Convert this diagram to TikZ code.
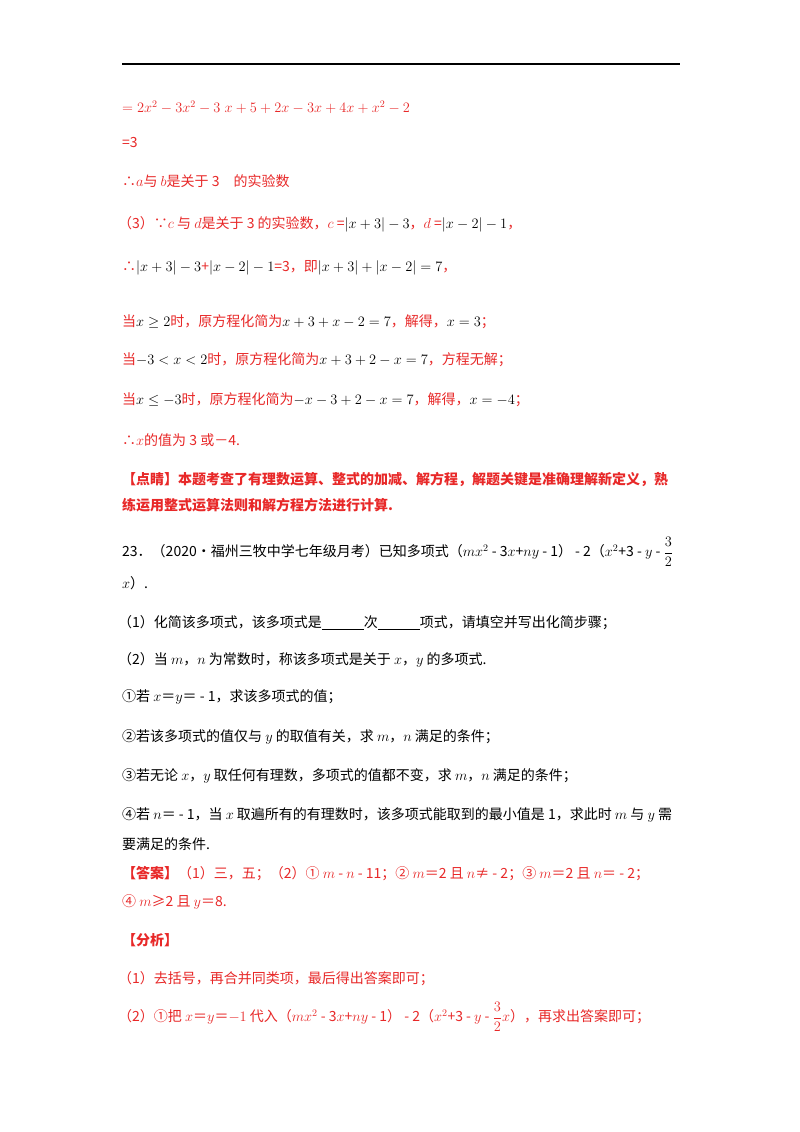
\documentclass[tikz,border=0pt]{standalone}
\usepackage{amsmath,amssymb}
\usepackage{fontspec}
\setmainfont{Noto Sans CJK SC}
\definecolor{rd}{RGB}{232,40,40}
\newcommand{\R}[1]{\textcolor{rd}{#1}}
\begin{document}
\begin{tikzpicture}[x=1pt,y=-1pt,
  ln/.style={anchor=west,inner sep=0pt,font=\fontsize{14}{17}\selectfont},
  rl/.style={ln,text=rd}]
\useasboundingbox[fill=white] (0,0) rectangle (800,1132);
\draw[line width=1.2pt] (122,64) coordinate (r1) -- (680,64) coordinate (r2);
\node[rl] (l1) at (122,107) {$=2x^2-3x^2-3\;x+5+2x-3x+4x+x^2-2$};
\node[rl] (l2) at (122,143) {=3};
\node[rl] (l3) at (122,181) {∴$a$与 $b$是关于 3\quad 的实验数};
\node[rl] (l4) at (118,224) {（3）∵$c$ 与 $d$是关于 3 的实验数，$c$ =\textcolor{black}{$\left|x+3\right|-3$}，$d$ =\textcolor{black}{$\left|x-2\right|-1$}，};
\node[rl] (l5) at (122,268) {∴\textcolor{black}{$\left|x+3\right|-3$}+\textcolor{black}{$\left|x-2\right|-1$}=3，即\textcolor{black}{$\left|x+3\right|+\left|x-2\right|=7$}，};
\node[rl] (l6) at (122,322) {当\textcolor{black}{$x\ge2$}时，原方程化简为\textcolor{black}{$x+3+x-2=7$}，解得，\textcolor{black}{$x=3$}；};
\node[rl] (l7) at (122,360) {当\textcolor{black}{$-3<x<2$}时，原方程化简为\textcolor{black}{$x+3+2-x=7$}，方程无解；};
\node[rl] (l8) at (122,400) {当\textcolor{black}{$x\le-3$}时，原方程化简为\textcolor{black}{$-x-3+2-x=7$}，解得，\textcolor{black}{$x=-4$}；};
\node[rl] (l9) at (122,440) {∴$x$的值为 3 或－4.};
\node[rl,font=\fontsize{14}{17}\selectfont\bfseries] (l10) at (122,479) {【点睛】本题考查了有理数运算、整式的加减、解方程，解题关键是准确理解新定义，熟};
\node[rl,font=\fontsize{14}{17}\selectfont\bfseries] (l11) at (122,505) {练运用整式运算法则和解方程方法进行计算.};
\node[ln] (q1) at (122,552) {23．（2020•福州三牧中学七年级月考）已知多项式（$mx^2$ - 3$x$+$ny$ - 1） - 2（$x^2$+3 - $y$ - $\dfrac{3}{2}$};
\node[ln] (q2) at (122,583) {$x$）.};
\node[ln] (q3) at (118,623) {（1）化简该多项式，该多项式是\underline{\hspace{3em}}次\underline{\hspace{3em}}项式，请填空并写出化简步骤；};
\node[ln] (q4) at (118,660) {（2）当 $m$，$n$ 为常数时，称该多项式是关于 $x$，$y$ 的多项式.};
\node[ln] (q5) at (122,697) {①若 $x$＝$y$＝ - 1，求该多项式的值；};
\node[ln] (q6) at (122,737) {②若该多项式的值仅与 $y$ 的取值有关，求 $m$，$n$ 满足的条件；};
\node[ln] (q7) at (122,776) {③若无论 $x$，$y$ 取任何有理数，多项式的值都不变，求 $m$，$n$ 满足的条件；};
\node[ln] (q8) at (122,815) {④若 $n$＝ - 1，当 $x$ 取遍所有的有理数时，该多项式能取到的最小值是 1，求此时 $m$ 与 $y$ 需};
\node[ln] (q9) at (122,844) {要满足的条件.};
\node[rl] (a1) at (122,874) {\textbf{【答案】}（1）三，五；（2）① $m$ - $n$ - 11；② $m$＝2 且 $n$≠ - 2；③ $m$＝2 且 $n$＝ - 2；};
\node[rl] (a2) at (122,902) {④ $m$≥2 且 $y$＝8.};
\node[rl] (a3) at (122,940) {\textbf{【分析】}};
\node[rl] (a4) at (118,979) {（1）去括号，再合并同类项，最后得出答案即可；};
\node[rl] (a5) at (118,1017) {（2）①把 $x$＝$y$＝$-1$ 代入（$mx^2$ - 3$x$+$ny$ - 1） - 2（$x^2$+3 - $y$ - $\dfrac{3}{2}x$），再求出答案即可；};
\end{tikzpicture}
\end{document}
